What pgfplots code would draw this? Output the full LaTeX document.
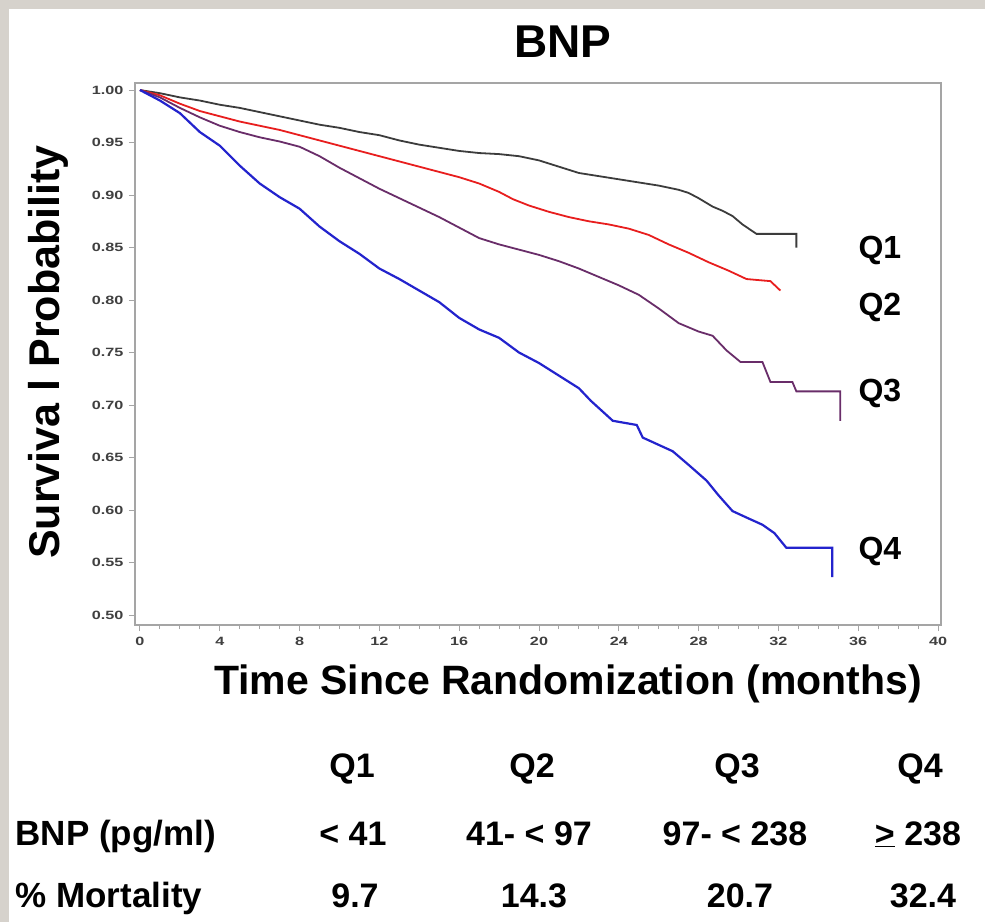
\documentclass[border=0pt]{standalone}
\usepackage{pgfplots}
\pgfplotsset{compat=1.18}
\usepackage{graphicx}
\usepackage{fontspec}
\setmainfont{Liberation Sans}
\definecolor{bggray}{RGB}{214,210,204}
\definecolor{axisgray}{RGB}{165,165,165}
\definecolor{qone}{RGB}{60,60,60}
\definecolor{qtwo}{RGB}{232,30,30}
\definecolor{qthree}{RGB}{105,45,105}
\definecolor{qfour}{RGB}{35,35,205}
\newcommand{\fs}[1]{\fontsize{#1}{#1}\selectfont\bfseries}
\begin{document}
\begin{tikzpicture}
\path[use as bounding box] (0pt,0pt) rectangle (985pt,-922pt);
\fill[white] (0pt,0pt) rectangle (985pt,-922pt);
\fill[bggray] (0pt,0pt) rectangle (985pt,-9pt);
\fill[bggray] (0pt,0pt) rectangle (9pt,-922pt);
\begin{axis}[
  at={(135pt,-625pt)}, anchor=south west,
  scale only axis, width=806pt, height=542pt,
  xmin=-0.25, xmax=40.15, ymin=0.4905, ymax=1.0067,
  xtick={0,4,...,40}, ytick={0.5,0.55,...,1.001},
  minor x tick num=3,
  tick align=outside, xtick pos=bottom, ytick pos=left,
  major tick length=6pt, minor tick length=4pt,
  tick style={draw=axisgray, line width=1pt},
  axis line style={draw=axisgray, line width=1.5pt},
  /pgf/number format/assume math mode=true,
  yticklabel={\scalebox{1.35}[1]{\fs{12}\pgfmathprintnumber[fixed,fixed zerofill,precision=2]{\tick}}},
  xticklabel={\scalebox{1.35}[1]{\fs{12}\pgfmathprintnumber{\tick}}},
  yticklabel style={xshift=-2pt, text=black!75},
  xticklabel style={yshift=-3pt, text=black!75},
]
\addplot[qone, line width=1.8pt] coordinates {
(0,1.000) (1,0.997) (2,0.993) (3,0.990) (4,0.986) (5,0.983) (6,0.979) (7,0.975)
(8,0.971) (9,0.967) (10,0.964) (11,0.960) (12,0.957) (13,0.952) (14,0.948)
(15,0.945) (16,0.942) (17,0.940) (18,0.939) (19,0.937) (20,0.933) (21,0.927)
(22,0.921) (23,0.918) (24,0.915) (25,0.912) (26,0.909)
(27,0.905) (27.5,0.902) (28,0.897) (28.7,0.889) (29.2,0.885) (29.7,0.880)
(30.2,0.872) (30.9,0.863) (32.9,0.863) (32.9,0.850)};
\addplot[qtwo, line width=1.8pt] coordinates {
(0,1.000) (1,0.995) (2,0.987) (3,0.980) (4,0.975) (5,0.970) (6,0.966) (7,0.962)
(8,0.957) (9,0.952) (10,0.947) (11,0.942) (12,0.937) (13,0.932) (14,0.927)
(15,0.922) (16,0.917) (17,0.911) (18,0.903) (18.7,0.896) (19.5,0.890)
(20.5,0.884) (21.5,0.879) (22.5,0.875) (23.5,0.872) (24.5,0.868) (25.5,0.862)
(26.5,0.853) (27.5,0.845) (28.5,0.836) (29.5,0.828) (30.4,0.820) (31.6,0.818)
(32.1,0.809)};
\addplot[qthree, line width=1.8pt] coordinates {
(0,1.000) (1,0.993) (2,0.983) (3,0.974) (4,0.966) (5,0.960) (6,0.955) (7,0.951)
(8,0.946) (9,0.937) (10,0.926) (11,0.916) (12,0.906) (13,0.897) (14,0.888)
(15,0.879) (16,0.869) (17,0.859) (18,0.853) (19,0.848) (20,0.843) (21,0.837)
(22,0.830) (23,0.822) (24,0.814) (25,0.805) (26,0.792) (27,0.778) (28,0.770)
(28.7,0.766) (29.4,0.752) (30.1,0.741) (31.2,0.741) (31.6,0.722) (32.7,0.722)
(32.9,0.713) (35.1,0.713) (35.1,0.685)};
\addplot[qfour, line width=2.2pt] coordinates {
(0,1.000) (1,0.990) (2,0.978) (3,0.960) (4,0.947) (5,0.928) (6,0.911) (7,0.898)
(8,0.887) (9,0.870) (10,0.856) (11,0.844) (12,0.830) (13,0.820) (14,0.809)
(15,0.798) (16,0.783) (17,0.772) (18,0.764) (19,0.750) (20,0.740) (21,0.728)
(22,0.716) (22.6,0.704) (23.7,0.685) (24.9,0.681) (25.2,0.669) (26.7,0.656)
(27.5,0.643) (28.4,0.628) (29.0,0.614) (29.7,0.599) (30.5,0.592) (31.2,0.586)
(31.8,0.578) (32.4,0.564) (34.7,0.564) (34.7,0.536)};
\end{axis}
% titles
\node at (563pt,-42pt) {\fs{46}BNP};
\node[rotate=90] at (48pt,-352pt) {\fs{43}Surviva l Probability};
\node at (568pt,-684pt) {\fs{41}Time Since Randomization (months)};
% curve labels
\node[anchor=west] at (855pt,-250pt) {\fs{32}Q1};
\node[anchor=west] at (855pt,-307pt) {\fs{32}Q2};
\node[anchor=west] at (855pt,-393pt) {\fs{32}Q3};
\node[anchor=west] at (855pt,-551pt) {\fs{32}Q4};
% table
\node[anchor=base] at (352pt,-777pt) {\fs{34}Q1};
\node[anchor=base] at (532pt,-777pt) {\fs{34}Q2};
\node[anchor=base] at (737pt,-777pt) {\fs{34}Q3};
\node[anchor=base] at (920pt,-777pt) {\fs{34}Q4};
\node[anchor=base west] at (12pt,-845pt) {\fs{35}BNP (pg/ml)};
\node[anchor=base] at (353pt,-845pt) {\fs{34}< 41};
\node[anchor=base] at (529pt,-845pt) {\fs{34}41- < 97};
\node[anchor=base] at (735pt,-845pt) {\fs{34}97- < 238};
\node[anchor=base] at (918pt,-845pt) {\fs{34}\underline{>} 238};
\node[anchor=base west] at (12pt,-907pt) {\fs{35}\% Mortality};
\node[anchor=base] at (355pt,-907pt) {\fs{34}9.7};
\node[anchor=base] at (534pt,-907pt) {\fs{34}14.3};
\node[anchor=base] at (740pt,-907pt) {\fs{34}20.7};
\node[anchor=base] at (923pt,-907pt) {\fs{34}32.4};
\end{tikzpicture}
\end{document}
